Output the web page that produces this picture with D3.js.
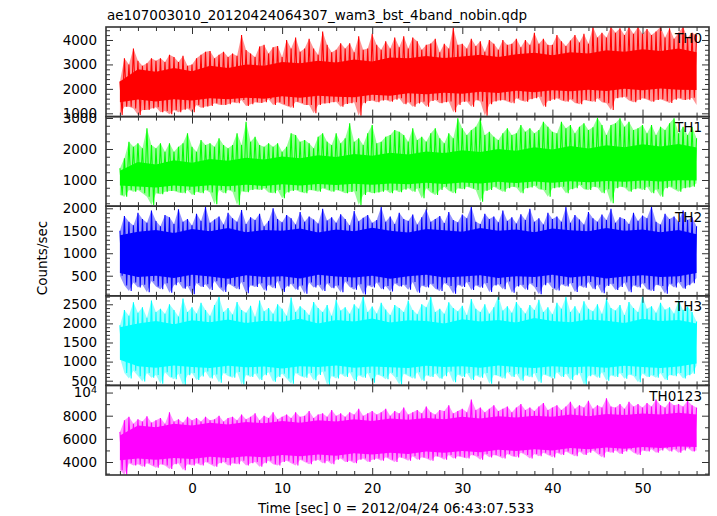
<!DOCTYPE html>
<html><head><meta charset="utf-8">
<script src="https://cdn.jsdelivr.net/npm/d3@7"></script>
<style>body{margin:0;background:#fff}svg{display:block}text{font-family:"DejaVu Sans",sans-serif}</style>
</head><body>
<svg id="c" width="717" height="516"></svg>
<script>
const title = "ae107003010_20120424064307_wam3_bst_4band_nobin.qdp";
const xLabel = "Time [sec] 0 = 2012/04/24 06:43:07.533";
const yLabel = "Counts/sec";
const panelNames = ["TH0", "TH1", "TH2", "TH3", "TH0123"];
const panelColors = ["#ff0000", "#00ff00", "#0000ff", "#00ffff", "#ff00ff"];
const tStart = -8, tEnd = 56;
const xMajorTicks = [0, 10, 20, 30, 40, 50];

// spike envelopes, every 0.5 s from -8 to 56 s
const th0Hi = [2300,3250,3000,3650,3150,2950,3050,3250,3150,3250,3100,3400,3300,3100,3350,2950,
3000,3250,3400,3520,3550,3250,3400,3520,3300,3450,
3350,4200,3590,3450,3300,3730,3800,3450,3700,3750,
3300,4000,3650,4100,3520,3650,4050,3650,3400,4350,
3800,3500,3600,3870,3650,3870,3500,4150,3600,3650,
4250,3800,3600,3950,3650,4100,3700,4150,3650,4100,
3950,3600,3800,3860,4050,3500,3850,3650,4500,3800,
3850,3650,4050,3750,3950,3520,4000,3850,3600,4000,
3800,3850,4050,3700,4000,3800,4300,3850,4050,3800,
3800,4200,3950,3750,3980,4200,3900,4250,3850,4540,
4100,4300,4100,4540,4300,4480,4200,4540,4250,4540,
4250,4450,4200,4350,4540,4100,4480,4050,4300,4540,
4100,4300,4200];
const th0Lo = [930,1270,1270,1200,930,1136,1140,1200,1250,1040,1095,960,1140,1040,1150,1200,
1040,1340,1231,1280,1300,1408,1350,1340,1370,1450,
1408,1545,1300,1367,1450,1420,1449,1580,1340,1450,
1367,1300,1231,1477,1420,1340,1340,1000,1340,1400,
1408,1450,1477,1272,1380,1408,1449,904,1408,1500,
1520,1449,1520,1545,1477,1560,1613,1367,1449,1272,
1400,1477,1272,1500,1545,1408,1450,1480,1040,1340,
1477,1480,1272,1545,1480,904,1367,1480,1520,1545,
1480,1408,1613,1520,1470,1580,1620,1681,1272,1500,
1560,1613,1520,1477,1580,1420,1367,1545,1500,1477,
1613,1450,1408,1136,1613,1650,1681,1520,1449,1545,
1613,1560,1477,1545,1580,1504,1420,1560,1613,1545,
1560,1640,1340];

const th1Hi = [1380,1700,2237,2075,2183,2022,2667,2129,2022,2183,1914,2183,1914,2075,2183,2505,
2075,1914,2290,2129,2183,2075,2344,2129,2022,2129,
2505,2129,2881,2237,2398,2129,2075,2183,2075,2183,
1914,2075,2505,2451,2237,2290,2183,2022,2398,2505,
2237,2129,2505,2183,2344,2828,2237,2344,2129,2505,
2774,2183,2237,2398,2451,2613,2559,2451,2237,2667,
2290,2398,2237,2505,2667,2344,2183,2505,2344,2989,
2667,2451,2613,2720,2989,2451,2559,2398,2290,2505,
2667,2451,2505,2774,2559,2667,2505,2613,2881,2720,
2559,2505,2881,2667,2774,2505,2720,2828,2613,2700,
3010,2774,2451,2774,2828,2989,2720,2881,2613,2667,
2774,2505,2774,2451,2720,2613,2828,2989,2505,2720,
2451,2720,2344];
const th1Lo = [517,460,680,624,678,570,463,194,570,540,624,646,646,600,570,678,
517,624,570,678,600,215,678,570,680,624,
194,640,603,678,700,678,732,600,570,678,
409,600,650,678,610,570,678,660,624,732,
680,624,678,640,570,610,640,194,517,624,
570,600,620,678,570,678,603,690,732,624,
732,409,732,600,517,678,785,650,570,732,
700,785,730,678,302,650,678,785,700,624,
732,785,760,570,732,760,818,700,678,463,
732,760,785,570,700,732,839,700,678,785,
760,570,700,248,732,785,760,624,700,732,
678,785,570,700,463,732,785,700,624,732,
760,785,893];

const th2Hi = [1500,1830,1700,1620,1900,1760,1680,1950,1720,1600,
1850,1800,1650,1980,1700,1760,1620,1880,1720,2040,
1680,1750,1820,1640,1900,1780,1700,1960,1650,1800,
1740,1880,1600,1720,2000,1760,1690,1850,1780,1640,
1920,1700,1820,1750,1660,1990,1730,1800,1680,1870,
1760,1620,1940,1710,1790,1850,1680,1740,2030,1700,
1820,1650,1900,1760,1720,1860,1640,1800,1980,1700,
1760,1830,1670,1920,1740,1690,1860,1780,2040,1700,
1650,1880,1760,1820,1690,1950,1720,1800,1660,1870,
1740,1990,1700,1780,1640,1900,1760,1820,1700,2030,
1680,1850,1750,1640,1920,1780,1700,1860,1740,1990,
1680,1800,1760,1650,1900,1720,1840,1780,2040,1700,
1640,1880,1760,1820,1700,1950,1740,1800,1600];
const th2Lo = [500,280,160,350,240,300,130,380,260,200,
330,120,290,360,210,270,90,340,250,310,
180,380,240,140,320,270,200,360,110,290,
250,330,170,300,220,380,140,260,320,190,
280,100,350,240,300,160,330,220,280,130,
370,250,190,310,80,290,240,350,200,270,
150,330,260,300,190,360,120,280,240,320,
210,160,340,270,100,300,250,360,180,290,
230,340,140,280,310,200,370,120,260,300,
190,330,250,90,290,350,220,170,310,260,
340,140,280,230,360,200,300,110,270,320,
180,250,350,130,290,240,330,200,160,300,
270,100,320,240,360,210,290,330,450];

const th3Hi = [1950,2350,2200,2550,2280,2420,2150,2600,2300,2380,
2250,2500,2350,2180,2650,2300,2420,2260,2540,2350,
2200,2480,2700,2300,2400,2230,2560,2350,2280,2460,
2180,2600,2320,2400,2250,2500,2380,2200,2680,2300,
2450,2350,2220,2560,2400,2300,2480,2200,2620,2340,
2420,2250,2500,2380,2720,2300,2440,2260,2540,2360,
2220,2480,2400,2300,2600,2350,2240,2500,2420,2700,
2300,2380,2250,2550,2400,2320,2460,2220,2640,2380,
2300,2500,2250,2420,2720,2340,2450,2280,2560,2400,
2260,2480,2350,2620,2300,2420,2240,2540,2380,2700,
2300,2450,2260,2580,2380,2320,2500,2250,2650,2400,
2340,2480,2220,2560,2400,2300,2720,2380,2450,2280,
2540,2360,2420,2260,2600,2350,2440,2300,2050];
const th3Lo = [1100,700,560,760,620,480,700,580,650,420,
720,600,540,680,380,640,700,520,610,740,
560,660,450,700,620,580,730,400,650,600,
690,520,640,720,470,600,680,560,420,700,
620,580,700,510,650,740,380,620,560,680,
600,720,500,640,580,700,450,660,620,540,
710,600,400,680,620,560,720,500,640,600,
690,550,620,740,460,660,600,700,520,640,
580,700,420,650,620,560,730,600,680,500,
640,590,700,450,660,620,560,720,600,680,
520,640,700,390,620,660,580,720,500,640,
600,700,550,660,620,460,690,600,640,580,
700,520,650,620,700,560,640,680,900];

const th0123Hi = [6600,7600,7900,7300,7700,7500,7950,7400,7600,7800,7300,8300,7500,7700,7400,7900,7600,
7800,7500,7900,7600,7700,8000,7500,7800,7900,7600,8100,7700,7900,8200,7600,8000,7800,8300,7700,7900,
8100,7800,8300,7900,8000,8400,7800,8100,8200,7900,8500,8000,8200,7900,8300,8100,8600,8000,8200,8400,
8100,8300,8600,8000,8400,8200,8700,8100,8300,8500,8200,8800,8300,8100,8500,8400,8900,8200,8400,8600,
8300,9400,8500,8700,8300,8600,8900,8400,8600,8800,8300,8700,9000,8500,8700,8400,8800,9100,8500,8700,
8900,8500,8800,9200,8600,8900,8700,9300,8600,8900,8700,9500,8800,8700,9000,8600,9200,8800,9000,8700,
9100,8800,9400,8900,8700,9200,8900,9000,8800,9300,8900,8700];
const th0123Lo = [3300,2900,3900,3700,3800,3600,3900,3700,3500,3800,3700,3400,3800,3900,3300,3800,3700,
3900,3700,4000,3800,3600,3900,4000,3700,3900,3800,4100,3700,3900,4000,3600,3900,4100,3800,3700,4000,
4100,3900,3700,4200,4000,3800,4100,4200,3900,4100,3800,4200,4300,4000,4100,3900,4200,4300,4000,4200,
4300,4100,4400,4200,4000,4400,4300,4100,4500,4200,4400,4300,4100,4500,4400,4200,4600,4300,4500,4400,
4300,4600,4500,4200,4700,4400,4600,4500,4300,4700,4500,4400,4800,4600,4300,4700,4500,4800,4600,4400,
4800,4600,4900,4700,4500,4900,4600,4800,5000,4700,4400,4900,4800,5000,4700,4900,5100,4800,4600,5000,
4900,5100,4800,5000,5200,4900,5100,4800,5000,5200,4900,5000];

// edges of the dense (solid) core, every 2 s from -8 to 56 s
const th0CoreHi = [2300,2800,2700,2850,2720,2950,2850,3000,2950,3100,3050,3150,3080,3200,3120,3280,3250,3350,3260,3320,3400,3300,3420,3480,3380,3500,3450,3580,3520,3620,3550,3650,3500];
const th0CoreLo = [1450,1560,1480,1580,1520,1620,1580,1640,1600,1700,1640,1720,1680,1660,1760,1720,1820,1780,1840,1800,1880,1830,1920,1860,1940,1900,1960,1910,2000,1940,2020,1960,1950];
const th1CoreHi = [1300,1580,1500,1640,1560,1680,1620,1720,1660,1760,1700,1800,1740,1840,1780,1880,1820,1920,1870,1960,1900,2000,1940,2060,1980,2100,2020,2120,2060,2150,2080,2160,2050];
const th1CoreLo = [820,790,760,820,780,830,800,850,810,860,820,870,840,880,850,890,860,910,870,920,890,940,900,950,910,960,930,970,940,980,950,990,980];
const th2CoreHi = [1400,1480,1520,1450,1540,1490,1560,1470,1520,1500,1550,1460,1530,1490,1570,1500,1460,1540,1510,1480,1560,1500,1530,1470,1550,1510,1490,1560,1500,1530,1470,1520,1420];
const th2CoreLo = [560,470,500,450,520,480,430,510,470,490,440,520,480,460,500,430,490,520,460,480,510,450,490,470,520,460,500,440,480,510,470,490,560];
const th3CoreHi = [1900,2000,2060,1980,2080,2030,2100,2010,2070,2040,2120,2000,2090,2050,2130,2020,2080,2060,2000,2110,2050,2090,2020,2140,2060,2030,2100,2070,2010,2120,2060,2090,2000];
const th3CoreLo = [1050,880,840,900,860,830,890,850,870,820,880,860,900,840,870,850,830,890,860,880,840,900,860,830,880,850,870,840,890,860,830,870,950];
const th0123CoreHi = [6300,7150,7000,7300,7150,7400,7250,7450,7350,7550,7400,7600,7500,7700,7550,7750,7650,7800,7700,7900,7750,7950,7850,8000,7900,8100,7950,8150,8050,8200,8100,8250,8100];
const th0123CoreLo = [4150,4300,4200,4350,4250,4450,4350,4500,4400,4600,4500,4650,4550,4750,4650,4800,4700,4900,4800,4950,4850,5050,4950,5100,5000,5200,5100,5250,5150,5300,5200,5350,5300];

const yDomains = [[865, 4532], [155, 3045], [53, 2047], [377, 2722], [2877, 10618]];
const yMajorTicks = [[1000, 2000, 3000, 4000], [1000, 2000, 3000], [500, 1000, 1500, 2000], [500, 1000, 1500, 2000, 2500], [4000, 6000, 8000, 10000]];
const yMinorSteps = [200, 250, 100, 100, 1000];
const hiSeries = [th0Hi, th1Hi, th2Hi, th3Hi, th0123Hi];
const loSeries = [th0Lo, th1Lo, th2Lo, th3Lo, th0123Lo];
const coreHiSeries = [th0CoreHi, th1CoreHi, th2CoreHi, th3CoreHi, th0123CoreHi];
const coreLoSeries = [th0CoreLo, th1CoreLo, th2CoreLo, th3CoreLo, th0123CoreLo];

const svg = d3.select("#c");
const L = 106, R = 709, T = 27, B = 475;
const ph = (B - T) / 5;
const x = d3.scaleLinear().domain([-9.545, 57.38]).range([L, R]);
const xMinor = d3.range(-8, 57, 2).filter(v => v % 10 !== 0);
const tickCol = "#333";

svg.append("text").attr("x", 107).attr("y", 19.5).attr("font-size", 13.5).text(title);

function seriesPoints(hi, lo) {
  const n = hi.length;
  return hi.map((h, k) => ({ t: tStart + k * (tEnd - tStart) / (n - 1), h: h, l: lo[k] }));
}

panelNames.forEach((name, i) => {
  const top = T + i * ph, bot = top + ph;
  const y = d3.scaleLinear().domain(yDomains[i]).range([bot, top]);
  const g = svg.append("g");
  const cid = "clip" + i;
  svg.append("clipPath").attr("id", cid).append("rect")
    .attr("x", L).attr("y", top).attr("width", R - L).attr("height", ph);
  const col = panelColors[i];
  const dg = g.append("g").attr("clip-path", `url(#${cid})`);
  const env = seriesPoints(hiSeries[i], loSeries[i]);
  const core = seriesPoints(coreHiSeries[i], coreLoSeries[i]);
  const area = d3.area().x(d => x(d.t)).y0(d => y(d.l)).y1(d => y(d.h));
  dg.append("path").datum(env).attr("d", area).attr("fill", col).attr("fill-opacity", 0.42);
  const dt = (tEnd - tStart) / (env.length - 1);
  const zz = [];
  env.forEach(d => { zz.push([x(d.t), y(d.h)]); zz.push([x(d.t + dt / 2), y(d.l)]); });
  zz.pop();
  dg.append("path").attr("d", d3.line()(zz)).attr("fill", "none").attr("stroke", col).attr("stroke-width", 1.1);
  dg.append("path").datum(core).attr("d", area).attr("fill", col);

  const major = yMajorTicks[i];
  const [d0, d1] = yDomains[i];
  const step = yMinorSteps[i];
  const minor = d3.range(Math.ceil(d0 / step) * step, d1, step).filter(v => !major.includes(v));

  const styleAxis = sel => { sel.select(".domain").remove(); sel.selectAll("line").attr("stroke", tickCol); };

  const la = g.append("g").attr("transform", `translate(${L},0)`)
    .call(d3.axisLeft(y).tickValues(major).tickSize(-7).tickPadding(9)
      .tickFormat(v => v === 10000 ? "" : String(v)));
  la.call(styleAxis);
  la.selectAll("text").attr("font-family", "DejaVu Sans").attr("font-size", 13.5).attr("fill", "#000");
  la.selectAll(".tick").filter(v => v === 10000).select("text").each(function () {
    const t = d3.select(this);
    t.text("10");
    t.append("tspan").attr("dy", "-0.45em").attr("font-size", 9.5).text("4");
  });
  g.append("g").attr("transform", `translate(${L},0)`)
    .call(d3.axisLeft(y).tickValues(minor).tickSize(-4).tickFormat("")).call(styleAxis);
  g.append("g").attr("transform", `translate(${R},0)`)
    .call(d3.axisRight(y).tickValues(major).tickSize(-7).tickFormat("")).call(styleAxis);
  g.append("g").attr("transform", `translate(${R},0)`)
    .call(d3.axisRight(y).tickValues(minor).tickSize(-4).tickFormat("")).call(styleAxis);
  g.append("g").attr("transform", `translate(0,${top})`)
    .call(d3.axisTop(x).tickValues(xMajorTicks).tickSize(-7).tickFormat("")).call(styleAxis);
  g.append("g").attr("transform", `translate(0,${top})`)
    .call(d3.axisTop(x).tickValues(xMinor).tickSize(-4).tickFormat("")).call(styleAxis);
  const ba = g.append("g").attr("transform", `translate(0,${bot})`)
    .call(d3.axisBottom(x).tickValues(xMajorTicks).tickSize(-7).tickPadding(8)
      .tickFormat(i === 4 ? d3.format("d") : ""));
  ba.call(styleAxis);
  ba.selectAll("text").attr("font-family", "DejaVu Sans").attr("font-size", 13.5).attr("fill", "#000");
  g.append("g").attr("transform", `translate(0,${bot})`)
    .call(d3.axisBottom(x).tickValues(xMinor).tickSize(-4).tickFormat("")).call(styleAxis);

  g.append("rect").attr("x", L).attr("y", top).attr("width", R - L).attr("height", ph)
    .attr("fill", "none").attr("stroke", "#333").attr("stroke-width", 1.6);

  g.append("text").attr("x", 702).attr("y", top + 15.5).attr("text-anchor", "end")
    .attr("font-size", 13.5).text(name);
});

svg.append("text").attr("x", 396).attr("y", 513).attr("text-anchor", "middle")
  .attr("font-size", 13.5).text(xLabel);
svg.append("text").attr("transform", "translate(46.5,258) rotate(-90)")
  .attr("text-anchor", "middle").attr("font-size", 13.5).text(yLabel);
</script>
</body></html>
